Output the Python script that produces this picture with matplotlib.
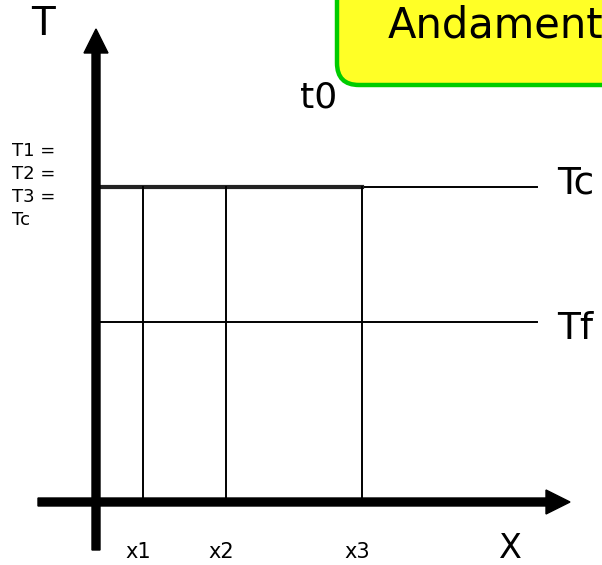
import matplotlib.pyplot as plt
from matplotlib.patches import FancyBboxPatch

# diagram units: origin where the two axes cross, 1 unit = 1 px
x_pos = [47, 130, 266]
x_labels = ['x1', 'x2', 'x3']
T_names = ['Tc', 'Tf']
T_levels = [315, 180]
T_equal = ['T1 =', 'T2 =', 'T3 =', 'Tc']
line_end = 441
title = 'Andament'

plt.rcParams['font.family'] = ['DejaVu Sans']

fig = plt.figure(figsize=(6.02, 5.65), dpi=100)
ax = fig.add_axes([0, 0, 1, 1])
ax.set_xlim(-96, 506)
ax.set_ylim(-63, 502)
ax.axis('off')

# titolo (box tagliato in alto a destra)
box = FancyBboxPatch((241, 417), 420, 200, boxstyle='round,pad=0,rounding_size=22',
                     fc='#ffff26', ec='#00cc00', lw=3.2, zorder=1)
ax.add_patch(box)
ax.text(292, 476, title, fontsize=30, va='center', ha='left', zorder=2)

# assi
ax.arrow(0, -48, 0, 521, width=8, head_width=24, head_length=24,
         length_includes_head=True, color='k', zorder=5)
ax.arrow(-58, 0, 532, 0, width=8, head_width=24, head_length=24,
         length_includes_head=True, color='k', zorder=5)

# livelli Tc, Tf
offs = [3, -7]
for name, lev, o in zip(T_names, T_levels, offs):
    ax.plot([0, line_end], [lev, lev], color='k', lw=1.4, zorder=3)
    ax.text(461, lev + o, name, fontsize=27, va='center', ha='left')

# profilo a t0
ax.plot([0, x_pos[-1]], [T_levels[0], T_levels[0]], color='#222222', lw=3, zorder=3)

# posizioni x1, x2, x3
for xp, lab in zip(x_pos, x_labels):
    ax.plot([xp, xp], [4, T_levels[0]], color='k', lw=1.4, zorder=3)
    ax.text(xp - 5, -50, lab, fontsize=15, va='center', ha='center')

ax.text(-53, 478, 'T', fontsize=28, va='center', ha='center')
ax.text(414, -47, 'X', fontsize=24, va='center', ha='center')
ax.text(204, 395, 't0', fontsize=26, va='baseline', ha='left')

for i, s in enumerate(T_equal):
    ax.text(-84, 351 - 23 * i, s, fontsize=13, va='center', ha='left')

fig.savefig('out.png', dpi=100)
